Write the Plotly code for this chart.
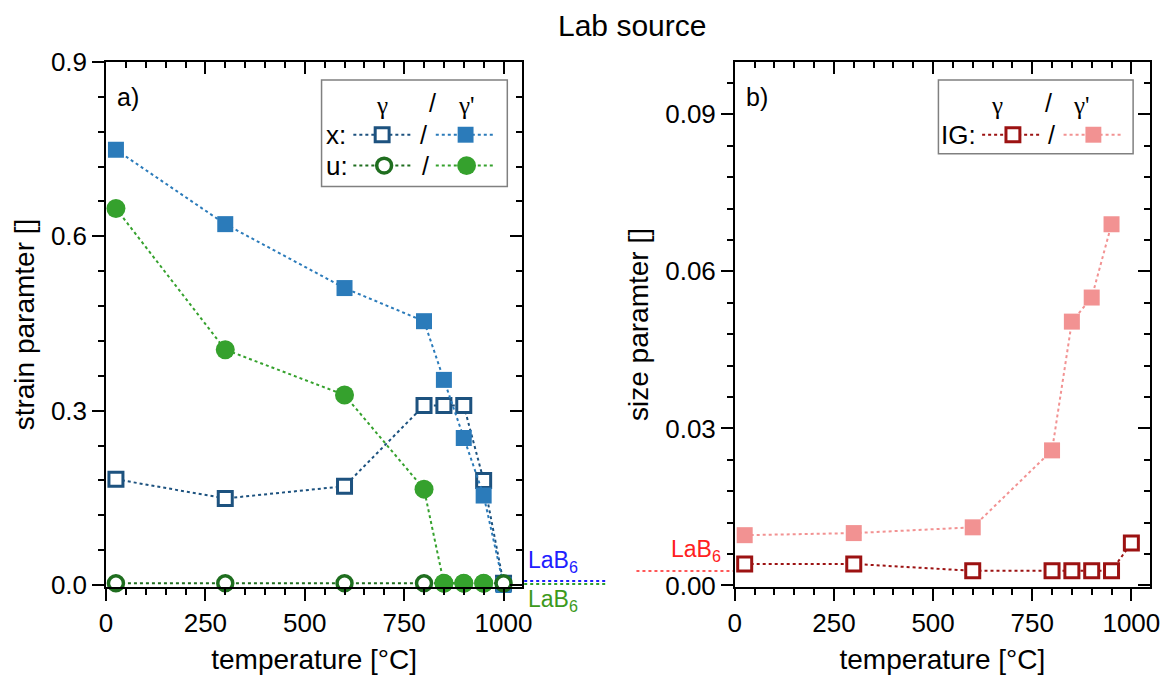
import plotly.graph_objects as go

# ---------------- data ----------------
temps = [25, 300, 600, 800, 850, 900, 950, 1000]

strain_x_gamma = [0.182, 0.149, 0.170, 0.309, 0.309, 0.309, 0.180, 0.003]
strain_x_gammap = [0.749, 0.621, 0.511, 0.454, 0.353, 0.253, 0.154, 0.000]
strain_u_gamma = [0.003, 0.003, 0.003, 0.003, 0.003, 0.003, 0.003, 0.003]
temps_u_gammap = [25, 300, 600, 800, 850, 900, 950]
strain_u_gammap = [0.648, 0.405, 0.327, 0.165, 0.003, 0.003, 0.003]

size_gamma = [0.0041, 0.0041, 0.0028, 0.0028, 0.0028, 0.0028, 0.0028, 0.0081]
temps_size_gammap = [25, 300, 600, 800, 850, 900, 950]
size_gammap = [0.0096, 0.0100, 0.0111, 0.0258, 0.0504, 0.0550, 0.0690]

x_ticks = [0, 250, 500, 750, 1000]
strain_ticks = [0.0, 0.3, 0.6, 0.9]
size_ticks = [0.0, 0.03, 0.06, 0.09]

# ---------------- style ----------------
FONT = "Liberation Sans, Arial, sans-serif"
GFONT = "Liberation Serif, Times New Roman, serif"
C_XG = "#1d527f"
C_XGP = "#2b7bba"
C_UG = "#1f6e1f"
C_UGP = "#35a12d"
C_SG = "#9c1212"
C_SGP = "#f29292"

W, H = 1172, 682
ML, MR, MT, MB = 106, 15, 62, 93
PW, PH = W - ML - MR, H - MT - MB


def px(x):
    return (x - ML) / PW


def py(y):
    return (H - MB - y) / PH


fig = go.Figure()


def line_trace(x, y, color, symbol, size, fill, lw, xa, ya):
    return go.Scatter(
        x=x, y=y, xaxis=xa, yaxis=ya, mode="lines+markers",
        line=dict(color=color, width=2, dash="dot"),
        marker=dict(symbol=symbol, size=size, color=fill,
                    line=dict(color=color, width=lw)),
        showlegend=False, cliponaxis=False)


fig.add_trace(line_trace(temps, strain_x_gamma, C_XG, "square", 14, "white", 3, "x", "y"))
fig.add_trace(line_trace(temps, strain_x_gammap, C_XGP, "square", 16, C_XGP, 0, "x", "y"))
fig.add_trace(line_trace(temps, strain_u_gamma, C_UG, "circle", 15, "white", 3.5, "x", "y"))
fig.add_trace(line_trace(temps_u_gammap, strain_u_gammap, C_UGP, "circle", 19, C_UGP, 0, "x", "y"))

fig.add_trace(line_trace(temps, size_gamma, C_SG, "square", 14, "white", 3, "x2", "y2"))
fig.add_trace(line_trace(temps_size_gammap, size_gammap, C_SGP, "square", 16, C_SGP, 0, "x2", "y2"))

# empty traces to create the mirrored-tick overlay axes
fig.add_trace(go.Scatter(x=[], y=[], xaxis="x3", yaxis="y3", showlegend=False))
fig.add_trace(go.Scatter(x=[], y=[], xaxis="x4", yaxis="y4", showlegend=False))

XR = [0, 1047]
YR1 = [-0.0034, 0.9]
YR2 = [-0.0003, 0.1]
D1 = [0, px(525)]
D2 = [px(739), 1]

tickfont = dict(family=FONT, size=26, color="black")
titlefont = dict(family=FONT, size=28, color="black")


def xaxis(domain, anchor, **kw):
    return dict(domain=domain, anchor=anchor, range=XR, tickvals=x_ticks,
                ticks="outside", ticklen=12, tickwidth=1.5, tickcolor="black",
                minor=dict(dtick=50, tick0=0, ticks="outside", ticklen=6,
                           tickwidth=1.5, tickcolor="black"),
                showline=True, linecolor="black", linewidth=1.5,
                showgrid=False, zeroline=False, tickfont=tickfont,
                title=dict(text="temperature [°C]", font=titlefont, standoff=12),
                **kw)


def yaxis(domain, anchor, rng, tv, dmin, fmt, title, **kw):
    return dict(domain=domain, anchor=anchor, range=rng, tickvals=tv,
                tickformat=fmt,
                ticks="outside", ticklen=12, tickwidth=1.5, tickcolor="black",
                minor=dict(dtick=dmin, tick0=0, ticks="outside", ticklen=6,
                           tickwidth=1.5, tickcolor="black"),
                showline=True, linecolor="black", linewidth=1.5,
                showgrid=False, zeroline=False, tickfont=tickfont,
                title=dict(text=title, font=titlefont, standoff=8), **kw)


def mirror_x(overlay, anchor, domain):
    return dict(overlaying=overlay, anchor=anchor, side="top", domain=domain,
                range=XR, tickvals=x_ticks, ticks="inside", ticklen=12,
                tickwidth=1.5, tickcolor="black",
                minor=dict(dtick=50, tick0=0, ticks="inside", ticklen=6,
                           tickwidth=1.5, tickcolor="black"),
                showline=True, linecolor="black", linewidth=1.5,
                showticklabels=False, showgrid=False, zeroline=False)


def mirror_y(overlay, anchor, rng, tv, dmin):
    return dict(overlaying=overlay, anchor=anchor, side="right",
                range=rng, tickvals=tv, ticks="inside", ticklen=12,
                tickwidth=1.5, tickcolor="black",
                minor=dict(dtick=dmin, tick0=0, ticks="inside", ticklen=6,
                           tickwidth=1.5, tickcolor="black"),
                showline=True, linecolor="black", linewidth=1.5,
                showticklabels=False, showgrid=False, zeroline=False)


fig.update_layout(
    width=W, height=H,
    margin=dict(l=ML, r=MR, t=MT, b=MB, pad=0),
    paper_bgcolor="white", plot_bgcolor="white",
    font=dict(family=FONT, color="black"),
    xaxis=xaxis(D1, "y"),
    yaxis=yaxis([0, 1], "x", YR1, strain_ticks, 0.06, ".1f", "strain paramter []"),
    xaxis2=xaxis(D2, "y2"),
    yaxis2=yaxis([0, 1], "x2", YR2, size_ticks, 0.006, ".2f", "size paramter []"),
    xaxis3=mirror_x("x", "y3", D1),
    yaxis3=mirror_y("y", "x3", YR1, strain_ticks, 0.06),
    xaxis4=mirror_x("x2", "y4", D2),
    yaxis4=mirror_y("y2", "x4", YR2, size_ticks, 0.006),
)

shapes = []
ann = []


def text(x, y, s, size=24, color="black", xanchor="center", family=FONT):
    ann.append(dict(x=px(x), y=py(y), xref="paper", yref="paper", text=s,
                    showarrow=False, xanchor=xanchor, yanchor="middle",
                    font=dict(family=family, size=size, color=color)))


def dline(x0, x1, y, color, width=2):
    shapes.append(dict(type="line", xref="paper", yref="paper",
                       x0=px(x0), x1=px(x1), y0=py(y), y1=py(y),
                       line=dict(color=color, width=width, dash="dot")))


def sq(cx, cy, s, color, fill, lw):
    shapes.append(dict(type="rect", xref="paper", yref="paper",
                       x0=px(cx - s / 2), x1=px(cx + s / 2),
                       y0=py(cy + s / 2), y1=py(cy - s / 2),
                       fillcolor=fill, line=dict(color=color, width=lw)))


def circ(cx, cy, s, color, fill, lw):
    shapes.append(dict(type="circle", xref="paper", yref="paper",
                       x0=px(cx - s / 2), x1=px(cx + s / 2),
                       y0=py(cy + s / 2), y1=py(cy - s / 2),
                       fillcolor=fill, line=dict(color=color, width=lw)))


# title and panel labels
text(636, 25, "Lab source", size=30)
text(115, 97, "a)", size=25, xanchor="left")
text(748, 97, "b)", size=25, xanchor="left")

# ---- legend a) ----
shapes.append(dict(type="rect", xref="paper", yref="paper",
                   x0=px(323), x1=px(510), y0=py(187), y1=py(80),
                   line=dict(color="#808080", width=1.5), fillcolor="white",
                   layer="below"))
text(384, 106, "γ", size=25, family=GFONT)
text(435, 103, "/", size=25)
text(469, 106, "γ'", size=25, family=GFONT)
text(325, 135, "x:", size=26, xanchor="left")
dline(355, 414, 135, C_XG)
sq(384, 135, 14, C_XG, "white", 3)
text(426, 135, "/", size=25)
dline(438, 498, 135, C_XGP)
sq(468, 135, 16, C_XGP, C_XGP, 0)
text(325, 166, "u:", size=26, xanchor="left")
dline(355, 414, 166, C_UG)
circ(386, 166, 15, C_UG, "white", 3.5)
text(428, 166, "/", size=25)
dline(438, 498, 166, C_UGP)
circ(469, 166, 19, C_UGP, C_UGP, 0)

# ---- legend b) ----
shapes.append(dict(type="rect", xref="paper", yref="paper",
                   x0=px(944), x1=px(1140), y0=py(154), y1=py(80),
                   line=dict(color="#808080", width=1.5), fillcolor="white",
                   layer="below"))
text(1003, 106, "γ", size=25, family=GFONT)
text(1055, 103, "/", size=25)
text(1088, 106, "γ'", size=25, family=GFONT)
text(945, 135, "IG:", size=26, xanchor="left")
dline(988, 1047, 135, C_SG)
sq(1019, 135, 14, C_SG, "white", 3)
text(1058, 135, "/", size=25)
dline(1070, 1130, 135, C_SGP)
sq(1100, 135, 16, C_SGP, C_SGP, 0)

# ---- LaB6 reference marks ----
dline(527, 611, 586, "#2ca02c", 2)
dline(527, 611, 583, "#2020ff", 2)
text(556, 563, "LaB<sub>6</sub>", size=23, color="#2020ff")
text(556, 603, "LaB<sub>6</sub>", size=23, color="#3c9a1c")
dline(640, 737, 573, "#ff2020", 1.5)
text(700, 552, "LaB<sub>6</sub>", size=23, color="#ff2020")

fig.update_layout(shapes=shapes, annotations=ann)

fig.write_html("out.html")
